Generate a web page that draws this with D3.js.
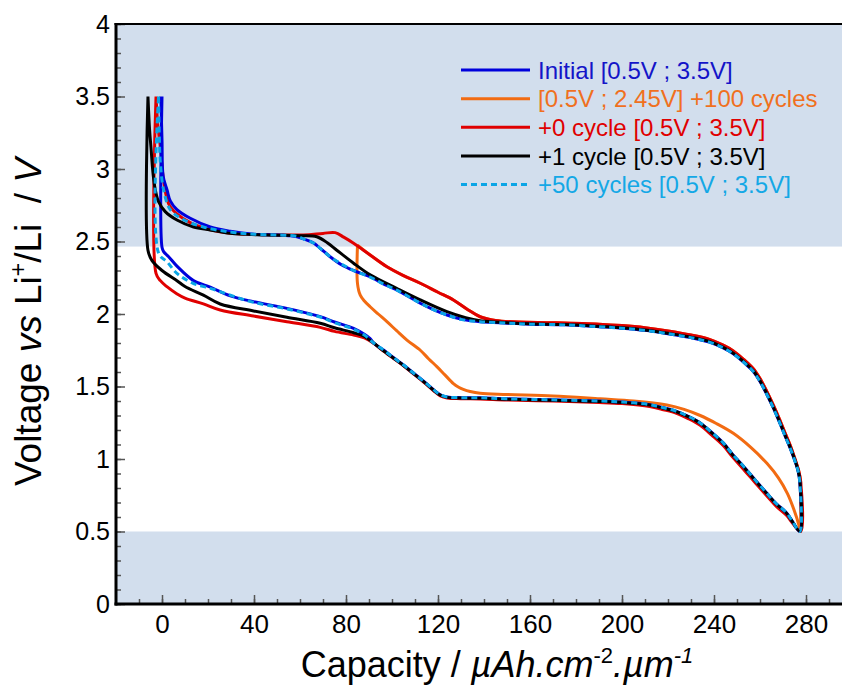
<!DOCTYPE html>
<html><head><meta charset="utf-8">
<script src="https://cdn.jsdelivr.net/npm/d3@7/dist/d3.min.js"></script>
<style>body{margin:0;background:#fff}svg{display:block}text{font-family:Arial,"Liberation Sans",sans-serif}</style>
</head><body><svg id="c" width="842" height="688"></svg>
<script>
// ---- data ----
const xTicks = [0,40,80,120,160,200,240,280];
const yTicks = [0,0.5,1,1.5,2,2.5,3,3.5,4];
const yTickLabels = ["0","0.5","1","1.5","2","2.5","3","3.5","4"];
const shadedBands = [[2.465,4],[0,0.5]];
const legendLabels = ["Initial [0.5V ; 3.5V]","[0.5V ; 2.45V] +100 cycles","+0 cycle [0.5V ; 3.5V]","+1 cycle [0.5V ; 3.5V]","+50 cycles [0.5V ; 3.5V]"];

const seriesInitial = [
[-0.5,3.5],[0,3.2],[0.5,2.95],[2.2,2.855],[3.6,2.78],[6.5,2.72],[12.3,2.66],[21,2.6],[29.7,2.57],[40,2.55],[50,2.545],[55,2.54],[58.7,2.533],[62,2.515],[65.9,2.49],[69,2.45],[73.1,2.395],[78,2.34],[83.3,2.3],[90.5,2.257],[96,2.21],[102.1,2.166],[112.3,2.074],[118,2.03],[123.9,1.993],[130,1.965],[138.3,1.947],[150,1.937],[160,1.93],[175,1.925],[190,1.912],[200,1.902],[210,1.887],[220,1.864],[230,1.837],[238,1.806],[244,1.766],[248.4,1.726],[253,1.666],[257,1.605],[260,1.535],[263,1.445],[266,1.345],[268.7,1.245],[271,1.155],[273,1.08],[275,0.995],[276.6,0.915],[277.3,0.84],[277.3,0.5],
[274,0.572],[271.6,0.628],[267,0.693],[263,0.763],[258,0.853],[252.8,0.95],[248,1.033],[244,1.111],[239,1.183],[234,1.249],[229,1.293],[223.7,1.329],[218,1.353],[212,1.375],[200,1.393],[190,1.4],[170,1.408],[150,1.415],[138.3,1.422],[130,1.423],[124,1.428],[121,1.443],[118,1.479],[114,1.533],[109.3,1.593],[105,1.648],[100.7,1.698],[96,1.755],[92,1.8],[90.5,1.83],[88,1.86],[83.3,1.901],[75,1.945],[68.8,1.982],[54.3,2.039],[39.8,2.085],[29.7,2.125],[21,2.185],[13.7,2.23],[6.5,2.33],[2.9,2.395],[0.7,2.43],[0,2.46],[0,3.5]];

const series100 = [
[85,2.475],[85,2.21],[86.2,2.13],[88,2.09],[90.5,2.05],[94,2.0],[97.8,1.947],[102,1.885],[106.5,1.82],[112.3,1.75],[116,1.69],[119.5,1.637],[123,1.58],[126.7,1.52],[129,1.495],[131,1.48],[134,1.465],[138.3,1.453],[150,1.445],[170,1.435],[190.5,1.415],[205,1.4],[219.5,1.372],[227,1.342],[234,1.3],[241,1.245],[248.4,1.177],[256,1.08],[263,0.97],[268,0.87],[272,0.76],[275,0.64],[276.8,0.55],[277.5,0.5],[277.6,0.81],
[277.7,0.84],[276.8,0.92],[275,1.01],[273,1.1],[271,1.175],[268.7,1.265],[266,1.365],[263,1.465],[260,1.555],[257,1.625],[253,1.685],[248.4,1.745],[244,1.785],[238,1.825],[230,1.855],[220,1.883],[210,1.905],[200,1.92],[190,1.93],[170,1.94],[155,1.945],[145,1.955],[138.3,1.981],[133,2.03],[126.7,2.097],[120,2.15],[112.3,2.212],[105,2.265],[97.8,2.326],[90.5,2.407],[85,2.475]];

const series0 = [
[-2.6,3.5],[-1.8,3.3],[-0.7,3.15],[0.7,2.92],[2.9,2.76],[6.5,2.69],[12.3,2.63],[21,2.58],[29.7,2.556],[45,2.548],[61.5,2.545],[70,2.556],[75.3,2.561],[79,2.53],[83.3,2.488],[90.5,2.407],[97.8,2.326],[105,2.265],[112.3,2.212],[120,2.15],[126.7,2.097],[133,2.03],[138.3,1.981],[145,1.955],[155,1.945],[170,1.94],[190,1.93],[200,1.92],[210,1.905],[220,1.883],[230,1.855],[238,1.825],[244,1.785],[248.4,1.745],[253,1.685],[257,1.625],[260,1.555],[263,1.465],[266,1.365],[268.7,1.265],[271,1.175],[273,1.1],[275,1.01],[276.8,0.92],[277.7,0.84],[277.7,0.5],
[274,0.56],[271.6,0.61],[267,0.675],[263,0.745],[258,0.835],[252.8,0.93],[248,1.015],[244,1.093],[239,1.165],[234,1.232],[229,1.277],[223.7,1.315],[218,1.34],[212,1.362],[200,1.382],[190,1.39],[170,1.4],[150,1.407],[138.3,1.414],[130,1.416],[124,1.42],[121,1.435],[118,1.472],[114,1.527],[109.3,1.588],[105,1.643],[100.7,1.693],[96,1.748],[92,1.798],[88,1.835],[83.3,1.855],[75,1.88],[68.8,1.908],[54.3,1.947],[39.8,1.986],[25.3,2.028],[18,2.07],[10,2.11],[6.4,2.14],[2,2.19],[-0.7,2.23],[-2.6,2.28],[-2.6,3.5]];

const series1 = [
[-6.1,3.5],[-5.4,3.27],[-4.8,3.15],[-3.9,2.97],[-2.9,2.855],[-1.5,2.775],[1.4,2.706],[6.5,2.648],[13.7,2.6],[21,2.58],[29.7,2.556],[45,2.545],[60,2.54],[67.3,2.533],[72,2.49],[76,2.44],[83.3,2.35],[90.5,2.27],[102,2.177],[112.3,2.097],[123.9,2.016],[132,1.975],[138.3,1.954],[150,1.94],[160,1.932],[175,1.927],[190,1.915],[200,1.905],[210,1.89],[220,1.867],[230,1.84],[238,1.81],[244,1.77],[248.4,1.73],[253,1.67],[257,1.61],[260,1.54],[263,1.45],[266,1.35],[268.7,1.25],[271,1.16],[273,1.085],[275,1.0],[276.6,0.92],[277.4,0.84],[277.4,0.5],
[274,0.57],[271.6,0.625],[267,0.69],[263,0.76],[258,0.85],[252.8,0.947],[248,1.03],[244,1.108],[239,1.18],[234,1.246],[229,1.29],[223.7,1.326],[218,1.35],[212,1.372],[200,1.39],[190,1.397],[170,1.405],[150,1.412],[138.3,1.419],[130,1.42],[124,1.425],[121,1.44],[118,1.476],[114,1.53],[109.3,1.59],[105,1.645],[100.7,1.695],[96,1.75],[92,1.8],[88,1.845],[83.3,1.871],[75,1.905],[68.8,1.936],[54.3,1.977],[39.8,2.021],[25.3,2.069],[18,2.13],[10,2.19],[6.5,2.23],[0,2.3],[-4.4,2.37],[-6.1,2.44],[-6.1,3.5]];

const series50 = [
[-1.5,3.5],[-1.2,3.25],[-0.7,3.04],[0.7,2.855],[3.6,2.72],[9.4,2.65],[18,2.6],[29.7,2.565],[40,2.55],[50,2.545],[58.7,2.535],[62,2.515],[65.9,2.49],[69,2.45],[73.1,2.395],[78,2.345],[83.3,2.3],[90.5,2.255],[96,2.21],[102.1,2.165],[112.3,2.075],[118,2.03],[123.9,1.993],[130,1.963],[138.3,1.947],[150,1.937],[160,1.93],[175,1.925],[190,1.912],[200,1.902],[210,1.887],[220,1.864],[230,1.837],[238,1.806],[244,1.766],[248.4,1.726],[253,1.666],[257,1.605],[260,1.535],[263,1.445],[266,1.345],[268.7,1.245],[271,1.155],[273,1.08],[275,0.995],[276.6,0.915],[277.3,0.84],[277.3,0.5],
[274,0.572],[271.6,0.628],[267,0.693],[263,0.763],[258,0.853],[252.8,0.95],[248,1.033],[244,1.111],[239,1.183],[234,1.249],[229,1.293],[223.7,1.329],[218,1.353],[212,1.375],[200,1.393],[190,1.4],[170,1.408],[150,1.415],[138.3,1.422],[130,1.423],[124,1.428],[121,1.443],[118,1.479],[114,1.533],[109.3,1.593],[105,1.648],[100.7,1.698],[96,1.755],[92,1.8],[88,1.855],[83.3,1.895],[75,1.94],[68.8,1.978],[54.3,2.035],[39.8,2.08],[29.7,2.13],[21,2.177],[13.7,2.21],[6.5,2.28],[2.2,2.36],[-1.5,2.42],[-1.5,3.5]];

// ---- styles ----
const legendSeries = [seriesInitial, series100, series0, series1, series50];
const lineColors = ["#0000dc","#f26b12","#e00000","#000000","#0aa5e6"];
const textColors = ["#1414c8","#f0701e","#e00000","#000000","#14a8e6"];
const dashes = [null,null,null,null,"6,4"];
const drawOrder = [1,2,0,3,4];

const svg = d3.select("#c");
const x = d3.scaleLinear().domain([-20,300]).range([116,852]);
const y = d3.scaleLinear().domain([0,4]).range([604,24]);

svg.append("defs").append("clipPath").attr("id","clip").append("rect")
  .attr("x",116).attr("y",24).attr("width",736).attr("height",580);

// bands
svg.append("g").selectAll("rect").data(shadedBands).join("rect")
  .attr("x",x(-20)).attr("width",x(300)-x(-20))
  .attr("y",d=>y(d[1])).attr("height",d=>y(d[0])-y(d[1]))
  .attr("fill","#d2deed");

// minor/major ticks
const minorY = d3.range(0,4.001,0.1);
const minorX = d3.range(-10,300,10);
const gy = svg.append("g").attr("transform","translate(116,0)");
gy.call(d3.axisLeft(y).tickValues(minorY).tickSizeInner(-5).tickSizeOuter(0).tickFormat(""));
const gy2 = svg.append("g").attr("transform","translate(116,0)");
gy2.call(d3.axisLeft(y).tickValues(yTicks).tickSizeInner(-9).tickSizeOuter(0).tickPadding(6).tickFormat((d,i)=>yTickLabels[i]));
const gx = svg.append("g").attr("transform","translate(0,604)");
gx.call(d3.axisBottom(x).tickValues(minorX).tickSizeInner(-5).tickSizeOuter(0).tickFormat(""));
const gx2 = svg.append("g").attr("transform","translate(0,604)");
gx2.call(d3.axisBottom(x).tickValues(xTicks).tickSizeInner(-9).tickSizeOuter(0).tickPadding(11).tickFormat(d3.format("d")));
[gy,gy2,gx,gx2].forEach(g=>{g.select(".domain").remove(); g.selectAll(".tick line").attr("stroke","#555").attr("stroke-width",1.5);});
gy2.selectAll(".tick text").attr("font-size",25).attr("fill","#000").attr("font-family","Arial, 'Liberation Sans', sans-serif");
gx2.selectAll(".tick text").attr("font-size",26).attr("fill","#000").attr("font-family","Arial, 'Liberation Sans', sans-serif");

// curves
const line = d3.line().x(d=>x(d[0])).y(d=>y(d[1])).curve(d3.curveCatmullRom.alpha(0.5));
const gc = svg.append("g").attr("clip-path","url(#clip)");
drawOrder.forEach(i=>{
  gc.append("path").attr("d",line(legendSeries[i])).attr("fill","none")
    .attr("stroke",lineColors[i]).attr("stroke-width",3)
    .attr("stroke-dasharray",dashes[i]).attr("stroke-linejoin","round");
});

// frame
svg.append("line").attr("x1",116).attr("x2",116).attr("y1",23).attr("y2",605.5).attr("stroke","#000").attr("stroke-width",3);
svg.append("line").attr("x1",114.5).attr("x2",842).attr("y1",604).attr("y2",604).attr("stroke","#000").attr("stroke-width",3);
svg.append("line").attr("x1",114.5).attr("x2",842).attr("y1",24).attr("y2",24).attr("stroke","#000").attr("stroke-width",2);

// legend
const lg = svg.append("g");
const rowY = d3.scalePoint().domain(d3.range(5)).range([70,184.5]);
legendLabels.forEach((t,i)=>{
  lg.append("line").attr("x1",461).attr("x2",530).attr("y1",rowY(i)).attr("y2",rowY(i))
    .attr("stroke",lineColors[i]).attr("stroke-width",3).attr("stroke-dasharray",dashes[i]);
  lg.append("text").attr("x",538).attr("y",rowY(i)).attr("dy","0.36em")
    .attr("font-size",24).attr("fill",textColors[i]).text(t);
});

// axis titles
const yt = svg.append("text").attr("transform","translate(41,322) rotate(-90)")
  .attr("text-anchor","middle").attr("font-size",37).style("white-space","pre");
yt.append("tspan").text("Voltage ");
yt.append("tspan").attr("font-style","italic").text("vs");
yt.append("tspan").text(" Li");
yt.append("tspan").attr("font-size",23).attr("dy",-15).text("+");
yt.append("tspan").attr("dy",15).text("/Li  / ");
yt.append("tspan").attr("font-style","italic").text("V");

const xt = svg.append("text").attr("x",497).attr("y",677).attr("text-anchor","middle").attr("font-size",36);
xt.append("tspan").text("Capacity / ");
xt.append("tspan").attr("font-style","italic").text("µAh.cm");
xt.append("tspan").attr("font-size",22).attr("dy",-14).text("-2");
xt.append("tspan").attr("font-style","italic").attr("dy",14).text(".µm");
xt.append("tspan").attr("font-style","italic").attr("font-size",22).attr("dy",-14).text("-1");
</script></body></html>
